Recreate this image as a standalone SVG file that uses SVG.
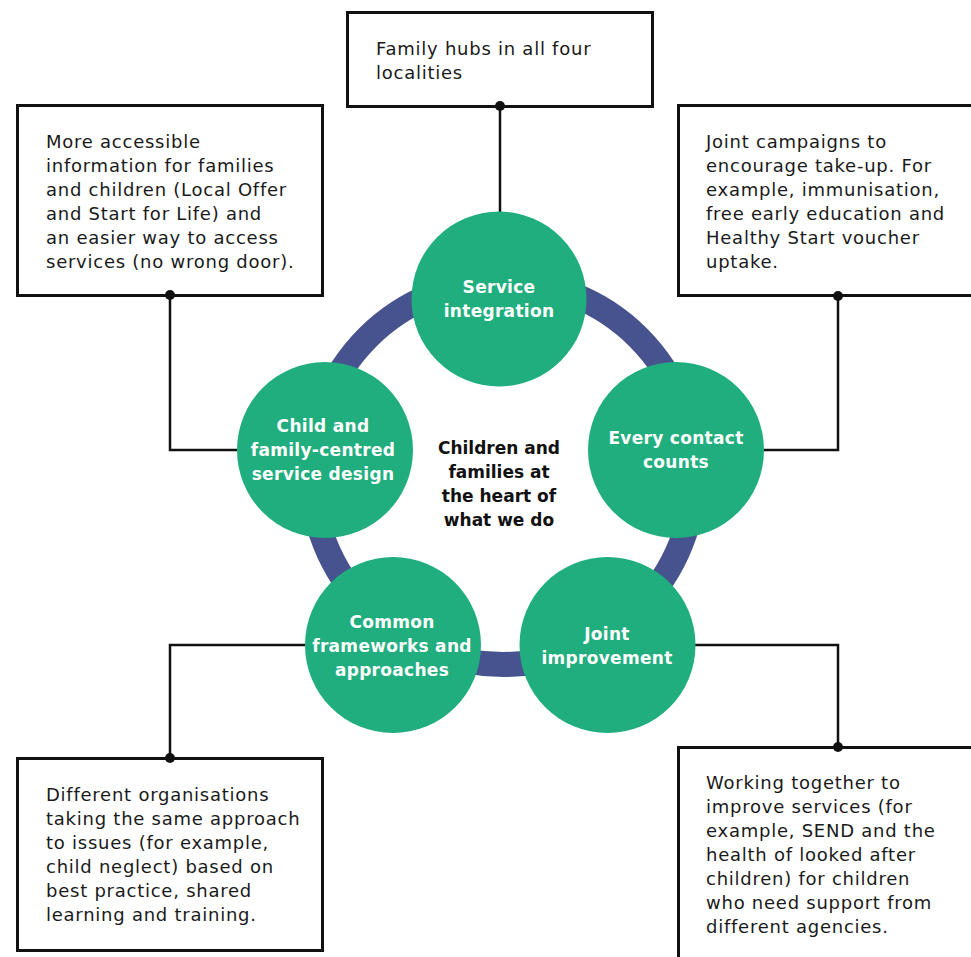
<svg xmlns="http://www.w3.org/2000/svg" width="971" height="957" viewBox="0 0 971 957">
<style>
.box{fill:#fff;stroke:#111;stroke-width:3}
.bt{font-family:"DejaVu Sans",sans-serif;font-size:18px;fill:#1a1a1a;letter-spacing:0.75px}
.node{fill:#21ae7e}
.lbl{font-family:"DejaVu Sans",sans-serif;font-weight:bold;font-size:17px;fill:#fff;text-anchor:middle;letter-spacing:0.3px}
.ctr{font-family:"DejaVu Sans",sans-serif;font-weight:bold;font-size:17px;fill:#111;text-anchor:middle}
.con{fill:none;stroke:#111;stroke-width:2.5}
.dot{fill:#111}
</style>
<rect width="971" height="957" fill="#fff"/>
<g id="ring">
<circle cx="503" cy="473" r="191.5" fill="none" stroke="#46538f" stroke-width="25"/>
</g>
<g id="box-hubs">
<rect class="box" x="347.5" y="12.5" width="305" height="94"/>
<text class="bt" x="376" y="55">Family hubs in all four</text>
<text class="bt" x="376" y="79">localities</text>
</g>
<g id="box-info">
<rect class="box" x="17.5" y="105.5" width="305" height="190"/>
<text class="bt" x="46" y="148"><tspan x="46">More accessible</tspan><tspan x="46" dy="24">information for families</tspan><tspan x="46" dy="24">and children (Local Offer</tspan><tspan x="46" dy="24">and Start for Life) and</tspan><tspan x="46" dy="24">an easier way to access</tspan><tspan x="46" dy="24">services (no wrong door).</tspan></text>
</g>
<g id="box-campaigns">
<rect class="box" x="678.5" y="105.5" width="300" height="190"/>
<text class="bt" x="706" y="148"><tspan x="706">Joint campaigns to</tspan><tspan x="706" dy="24">encourage take-up. For</tspan><tspan x="706" dy="24">example, immunisation,</tspan><tspan x="706" dy="24">free early education and</tspan><tspan x="706" dy="24">Healthy Start voucher</tspan><tspan x="706" dy="24">uptake.</tspan></text>
</g>
<g id="box-different">
<rect class="box" x="17.5" y="758.5" width="305" height="192"/>
<text class="bt" x="46" y="801"><tspan x="46">Different organisations</tspan><tspan x="46" dy="24">taking the same approach</tspan><tspan x="46" dy="24">to issues (for example,</tspan><tspan x="46" dy="24">child neglect) based on</tspan><tspan x="46" dy="24">best practice, shared</tspan><tspan x="46" dy="24">learning and training.</tspan></text>
</g>
<g id="box-working">
<rect class="box" x="678.5" y="747.5" width="300" height="220"/>
<text class="bt" x="706" y="789"><tspan x="706">Working together to</tspan><tspan x="706" dy="24">improve services (for</tspan><tspan x="706" dy="24">example, SEND and the</tspan><tspan x="706" dy="24">health of looked after</tspan><tspan x="706" dy="24">children) for children</tspan><tspan x="706" dy="24">who need support from</tspan><tspan x="706" dy="24">different agencies.</tspan></text>
</g>
<g id="connectors">
<path class="con" d="M500 106 V212"/>
<path class="con" d="M170 295 V450 H237"/>
<path class="con" d="M838 296 V450 H764"/>
<path class="con" d="M170 758 V645 H305"/>
<path class="con" d="M838 747 V645 H695"/>
<circle class="dot" cx="500" cy="106" r="5"/>
<circle class="dot" cx="170" cy="295" r="5"/>
<circle class="dot" cx="838" cy="296" r="5"/>
<circle class="dot" cx="170" cy="758" r="5"/>
<circle class="dot" cx="838" cy="747" r="5"/>
</g>
<g id="node-service">
<circle class="node" cx="499" cy="299" r="87.5"/>
<text class="lbl" x="499" y="293">Service</text>
<text class="lbl" x="499" y="317">integration</text>
</g>
<g id="node-contact">
<circle class="node" cx="676" cy="450" r="88"/>
<text class="lbl" x="676" y="444">Every contact</text>
<text class="lbl" x="676" y="468">counts</text>
</g>
<g id="node-joint">
<circle class="node" cx="607.5" cy="645" r="88"/>
<text class="lbl" x="607" y="640">Joint</text>
<text class="lbl" x="607" y="664">improvement</text>
</g>
<g id="node-common">
<circle class="node" cx="393" cy="645" r="88"/>
<text class="lbl" x="392" y="628">Common</text>
<text class="lbl" x="392" y="652">frameworks and</text>
<text class="lbl" x="392" y="676">approaches</text>
</g>
<g id="node-child">
<circle class="node" cx="325" cy="450" r="88"/>
<text class="lbl" x="323" y="432">Child and</text>
<text class="lbl" x="323" y="456">family-centred</text>
<text class="lbl" x="323" y="480">service design</text>
</g>
<g id="centre">
<text class="ctr" x="499" y="454">Children and</text>
<text class="ctr" x="499" y="478">families at</text>
<text class="ctr" x="499" y="502">the heart of</text>
<text class="ctr" x="499" y="526">what we do</text>
</g>
</svg>
